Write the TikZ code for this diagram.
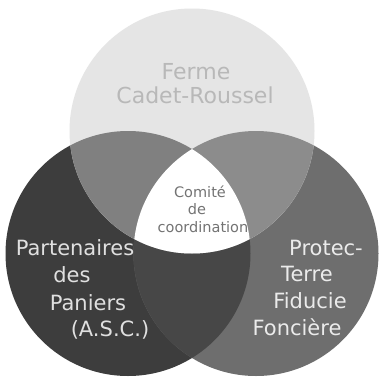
\documentclass[tikz,border=0pt]{standalone}
\usepackage{fontspec}
\setmainfont{DejaVu Sans}
\begin{document}
\begin{tikzpicture}[x=1pt,y=-1pt,
  bigtxt/.style={font=\fontsize{21}{24}\selectfont, anchor=base, inner sep=0pt},
  toptxt/.style={font=\fontsize{22}{24}\selectfont, anchor=base, inner sep=0pt, text=black!28},
  midtxt/.style={font=\fontsize{14.5}{16}\selectfont, anchor=base, inner sep=0pt, text=black!55}]
\useasboundingbox (0,0) rectangle (383,380);
\fill[white] (0,0) rectangle (383,380);
\def\R{122.5}
\coordinate (T) at (192,131);
\coordinate (L) at (128,253.5);
\coordinate (Rc) at (256,253.5);
% single circles
\fill[black!76] (L) circle (\R);
\fill[black!57] (Rc) circle (\R);
\fill[black!10] (T) circle (\R);
% left & right
\begin{scope}
  \clip (L) circle (\R);
  \fill[black!72] (Rc) circle (\R);
\end{scope}
% top & left
\begin{scope}
  \clip (T) circle (\R);
  \fill[black!50] (L) circle (\R);
\end{scope}
% top & right
\begin{scope}
  \clip (T) circle (\R);
  \fill[black!45] (Rc) circle (\R);
\end{scope}
% triple
\begin{scope}
  \clip (T) circle (\R);
  \clip (L) circle (\R);
  \fill[white] (Rc) circle (\R);
\end{scope}
% texts
\node[toptxt] (f1) at (196,79) {Ferme};
\node[toptxt] (f2) at (195,103) {Cadet-Roussel};
\node[midtxt] (c1) at (200,197) {Comité};
\node[midtxt] (c2) at (197,214) {de};
\node[midtxt] (c3) at (203,232) {coordination};
\node[bigtxt, text=black!12] (p1) at (75,255) {Partenaires};
\node[bigtxt, text=black!12] (p2) at (72,282) {des};
\node[bigtxt, text=black!12] (p3) at (88,310) {Paniers};
\node[bigtxt, text=black!12] (p4) at (110,336) {(A.S.C.)};
\node[bigtxt, text=black!8] (r1) at (326,255) {Protec-};
\node[bigtxt, text=black!8] (r2) at (307,281) {Terre};
\node[bigtxt, text=black!8] (r3) at (310,308) {Fiducie};
\node[bigtxt, text=black!8] (r4) at (297,335) {Foncière};
\end{tikzpicture}
\end{document}
